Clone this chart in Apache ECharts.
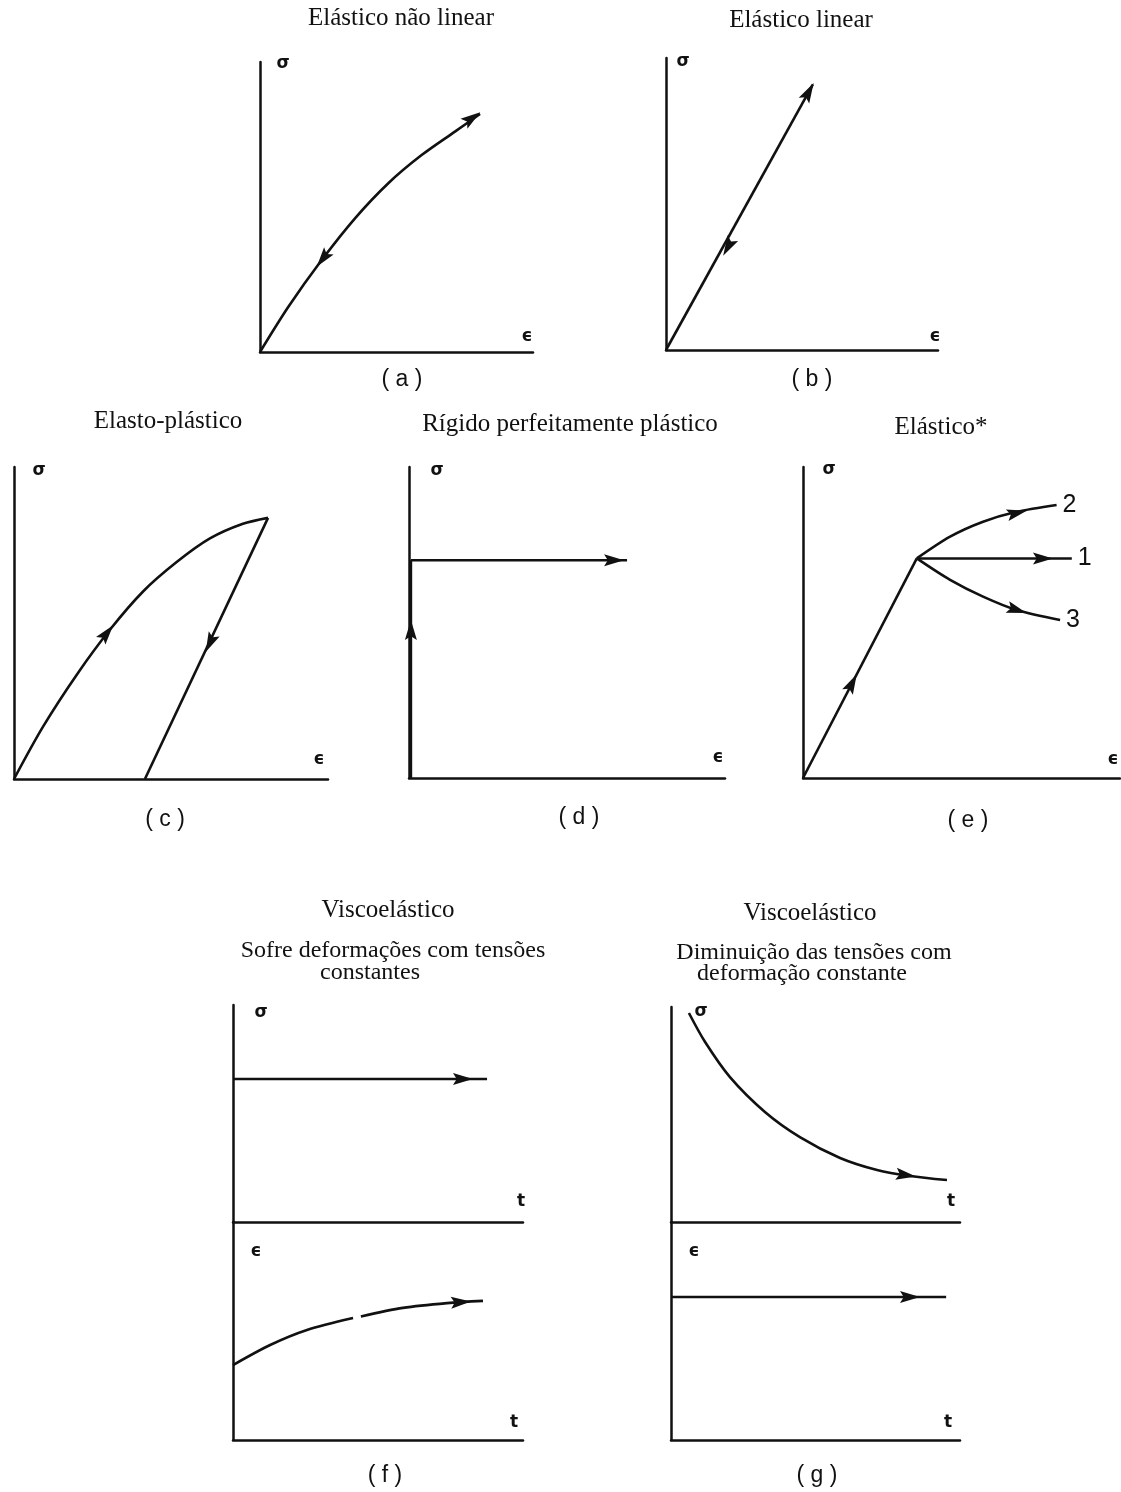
<!DOCTYPE html>
<html>
<head>
<meta charset="utf-8">
<script src="https://cdn.jsdelivr.net/npm/echarts@6/dist/echarts.min.js"></script>
<style>
  html, body { margin: 0; padding: 0; background: #fff; }
  #chart { width: 1121px; height: 1492px; }
</style>
</head>
<body>
<div id="chart"></div>
<script>
// curves, in % of each panel's axes (x: 0-100, y: 0-100)
const curveA = [[0, 0], [10.4, 15.6], [22.6, 31.7], [34.8, 46.1], [47, 58.2], [59.2, 67.9], [71.4, 76], [80.6, 82.1]];
const lineB = [[0, 0], [54, 91]];
const loadC = [[0, 0], [9.2, 16.7], [20.1, 33.6], [30.6, 47.9], [41.1, 60.1], [51.9, 69.6], [62.4, 77.1], [72.9, 81.8], [80.9, 83.7]];
const unloadC = [[80.9, 83.7], [41.7, 0]];
const riseD = [[0.6, 0], [0.6, 70]];
const flowD = [[0.6, 70], [69, 70]];
const riseE = [[0, 0], [35.9, 70.6]];
const branch2 = [[35.9, 70.6], [46.4, 77.6], [56.8, 82.4], [67.4, 85.6], [80, 87.8]];
const branch1 = [[35.9, 70.6], [84.8, 70.6]];
const branch3 = [[35.9, 70.6], [46.4, 63.7], [56.8, 58.3], [67.4, 54], [81.1, 50.8]];
const stressF = [[0, 65.9], [87.6, 65.9]];
const strainF = [[0, 34.4], [12.8, 43.6], [25.5, 50.5], [41.4, 56], null, [44.1, 56.7], [58.6, 60.6], [73.8, 62.8], [86.2, 63.8]];
const stressG = [[6.2, 97.2], [11.8, 83.7], [20.4, 67.4], [32.5, 51.2], [44.6, 39.5], [58.5, 29.8], [71.3, 24.2], [82.7, 21.4], [95.5, 19.5]];
const strainG = [[0, 65.6], [95.2, 65.6]];

// arrowheads: [x, y, dx, dy] (direction in data units)
const arrowsA = [[23, 32.1, -12.2, -15], [77.7, 80.7, 9.2, 6.1]];
const arrowsB = [[22.8, 35.3, -54, -91], [52.5, 88.4, 54, 91]];
const arrowsC = [[29.6, 46.8, 21, 26.5], [62.4, 43.6, -39.2, -83.7]];
const arrowsD = [[0.6, 47.6, 0, 1], [64.9, 70, 1, 0]];
const arrowsE = [[15.5, 30.5, 35.9, 70.6], [67.5, 85.2, 11.6, 2.7], [75.7, 70.6, 1, 0], [67.5, 54, 12, -3.8]];
const arrowsFt = [[79.3, 65.9, 1, 0]];
const arrowsFb = [[78.6, 63.2, 12.4, 1]];
const arrowsGt = [[81.3, 21.8, 24.2, -4.7]];
const arrowsGb = [[82.7, 65.6, 1, 0]];

const branchLabels = ['2', '1', '3'];

const grids = [
  { left: 260, top: 62, width: 273, height: 290 },
  { left: 666, top: 58, width: 272, height: 292 },
  { left: 14, top: 467, width: 314, height: 312 },
  { left: 409, top: 467, width: 316, height: 311 },
  { left: 803, top: 467, width: 317, height: 311 },
  { left: 233, top: 1005, width: 290, height: 217 },
  { left: 233, top: 1222, width: 290, height: 218 },
  { left: 671, top: 1007, width: 289, height: 215 },
  { left: 671, top: 1222, width: 289, height: 218 }
];

const INK = '#111';
const ARROW = 'path://M0,0 L5,16 L0,13 L-5,16 Z';
const SERIF = '"Liberation Serif", "DejaVu Serif", serif';
const SANS = '"Liberation Sans", "DejaVu Sans", sans-serif';

let chart = echarts.init(document.getElementById('chart'), null, { renderer: 'canvas' });

function axis () {
  return {
    type: 'value', min: 0, max: 100,
    axisLine: { show: true, onZero: false, lineStyle: { color: INK, width: 2.5 } },
    axisTick: { show: false }, axisLabel: { show: false }, splitLine: { show: false }
  };
}

function curve (gi, data, smooth, extra) {
  return Object.assign({
    type: 'line', xAxisIndex: gi, yAxisIndex: gi, data: data,
    smooth: smooth ? 0.3 : false, showSymbol: false, silent: true, connectNulls: false,
    lineStyle: { color: INK, width: 2.6 }, z: 3
  }, extra || {});
}

function arrows (gi, data) {
  let g = grids[gi];
  return {
    type: 'scatter', xAxisIndex: gi, yAxisIndex: gi, data: data, silent: true, z: 5,
    symbol: ARROW, symbolSize: [12, 20],
    symbolRotate: function (v) {
      return Math.atan2(v[3] * g.height / 100, v[2] * g.width / 100) * 180 / Math.PI - 90;
    },
    itemStyle: { color: INK, opacity: 1 }
  };
}

function branch (data, idx) {
  return curve(4, data, idx !== 1, {
    endLabel: { show: true, formatter: branchLabels[idx], color: INK, fontFamily: SANS, fontSize: 25, distance: 6 }
  });
}

function txt (x, y, text, font) {
  return {
    type: 'text', x: x, y: y, silent: true,
    style: { text: text, font: font, fill: INK, align: 'center', verticalAlign: 'middle', textAlign: 'center', textVerticalAlign: 'middle' }
  };
}

const TITLE = '25px ' + SERIF;
const SUB = '24px ' + SERIF;
const CAP = '23px ' + SANS;
const SYM = 'bold 17px "DejaVu Sans", sans-serif';

chart.setOption({
  animation: false,
  backgroundColor: '#fff',
  grid: grids,
  xAxis: grids.map((g, i) => Object.assign(axis(), { gridIndex: i })),
  yAxis: grids.map((g, i) => Object.assign(axis(), { gridIndex: i })),
  series: [
    curve(0, curveA, true), arrows(0, arrowsA),
    curve(1, lineB, false), arrows(1, arrowsB),
    curve(2, loadC, true), curve(2, unloadC, false), arrows(2, arrowsC),
    curve(3, riseD, false), curve(3, flowD, false), arrows(3, arrowsD),
    curve(4, riseE, false), branch(branch2, 0), branch(branch1, 1), branch(branch3, 2), arrows(4, arrowsE),
    curve(5, stressF, false), arrows(5, arrowsFt),
    curve(6, strainF, true), arrows(6, arrowsFb),
    curve(7, stressG, true), arrows(7, arrowsGt),
    curve(8, strainG, false), arrows(8, arrowsGb)
  ],
  graphic: [
    txt(401, 18, 'Elástico não linear', TITLE),
    txt(801, 20, 'Elástico linear', TITLE),
    txt(168, 421, 'Elasto-plástico', TITLE),
    txt(570, 424, 'Rígido perfeitamente plástico', TITLE),
    txt(941, 427, 'Elástico*', TITLE),
    txt(388, 910, 'Viscoelástico', TITLE),
    txt(393, 951, 'Sofre deformações com tensões', SUB),
    txt(370, 973, 'constantes', SUB),
    txt(810, 913, 'Viscoelástico', TITLE),
    txt(814, 953, 'Diminuição das tensões com', SUB),
    txt(802, 974, 'deformação constante', SUB),

    txt(402, 380, '( a )', CAP),
    txt(812, 380, '( b )', CAP),
    txt(165, 820, '( c )', CAP),
    txt(579, 818, '( d )', CAP),
    txt(968, 821, '( e )', CAP),
    txt(385, 1476, '( f )', CAP),
    txt(817, 1476, '( g )', CAP),

    txt(283, 64, 'σ', SYM), txt(527, 337, 'ϵ', SYM),
    txt(683, 62, 'σ', SYM), txt(935, 337, 'ϵ', SYM),
    txt(39, 471, 'σ', SYM), txt(319, 760, 'ϵ', SYM),
    txt(437, 471, 'σ', SYM), txt(718, 758, 'ϵ', SYM),
    txt(829, 470, 'σ', SYM), txt(1113, 760, 'ϵ', SYM),
    txt(261, 1013, 'σ', SYM), txt(521, 1202, 't', SYM),
    txt(256, 1252, 'ϵ', SYM), txt(514, 1423, 't', SYM),
    txt(701, 1012, 'σ', SYM), txt(951, 1202, 't', SYM),
    txt(694, 1252, 'ϵ', SYM), txt(948, 1423, 't', SYM)
  ]
});
</script>
</body>
</html>
